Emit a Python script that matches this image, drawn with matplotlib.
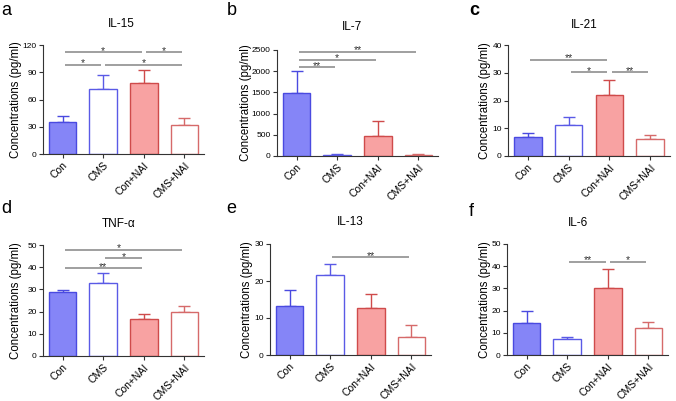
import matplotlib
matplotlib.use("Agg")
import matplotlib.pyplot as plt

plt.rcParams['font.family'] = ['Liberation Sans', 'DejaVu Sans']

groups = ["Con", "CMS", "Con+NAI", "CMS+NAI"]

titles = ["IL-15", "IL-7", "IL-21", "TNF-α", "IL-13", "IL-6"]
letters = ["a", "b", "c", "d", "e", "f"]

il15_mean = [35, 72, 78, 32]
il15_err = [7, 15, 14, 8]
il7_mean = [1480, 30, 480, 30]
il7_err = [520, 15, 350, 15]
il21_mean = [7.0, 11.2, 22.0, 6.0]
il21_err = [1.2, 2.8, 5.3, 1.6]
tnf_mean = [29.0, 33.0, 16.5, 20.0]
tnf_err = [0.6, 4.5, 2.5, 2.3]
il13_mean = [13.2, 21.5, 12.7, 5.0]
il13_err = [4.3, 3.2, 3.8, 3.2]
il6_mean = [14.5, 7.2, 30.0, 12.0]
il6_err = [5.5, 0.8, 8.6, 2.7]

means = [il15_mean, il7_mean, il21_mean, tnf_mean, il13_mean, il6_mean]
errs = [il15_err, il7_err, il21_err, tnf_err, il13_err, il6_err]

yticks = [
    [0, 30, 60, 90, 120],
    [0, 500, 1000, 1500, 2000, 2500],
    [0, 10, 20, 30, 40],
    [0, 10, 20, 30, 40, 50],
    [0, 10, 20, 30],
    [0, 10, 20, 30, 40, 50],
]

# significance: (i, j, y, label, label shift in bar units)
sig = [
    [(0, 2, 112, "*", 0), (2, 3, 112, "*", 0), (0, 1, 98, "*", 0), (1, 3, 98, "*", 0)],
    [(0, 3, 2460, "**", 0), (0, 2, 2270, "*", 0), (0, 1, 2090, "**", 0)],
    [(0, 2, 34.6, "**", 0), (1, 2, 30.2, "*", 0), (2, 3, 30.2, "**", 0)],
    [(0, 3, 47.7, "*", -0.12), (1, 2, 44.0, "*", 0), (0, 2, 39.5, "**", 0)],
    [(1, 3, 26.4, "**", 0)],
    [(1, 2, 42.0, "**", 0), (2, 3, 42.0, "*", 0)],
]

W, H = 676, 401
# pixel boxes: left, right, top, bottom
boxes = [
    (43, 204, 45, 154),
    (277, 438, 50, 156),
    (508, 670, 45, 156),
    (43, 204, 245, 356),
    (270, 431, 244, 355),
    (507, 668, 244, 355),
]
title_pos = [(121, 27), (352, 30), (584, 28), (119, 227), (350, 225), (578, 226)]
letter_pos = [(1, 15), (227, 15), (469, 15), (1, 213), (226, 213), (469, 216)]
letter_weight = ["normal", "normal", "bold", "normal", "normal", "normal"]
ylabel_x = [16, 246, 485, 16, 247, 485]

blue_fill = "#8585f7"
blue_edge = "#4a4ae0"
red_fill = "#f8a2a2"
red_edge = "#cf4b4b"
faces = [blue_fill, "white", red_fill, "white"]
edges = [blue_edge, "#5a5ae6", red_edge, "#d66a6a"]

fig = plt.figure(figsize=(W / 100, H / 100), dpi=100)

for k in range(6):
    l, r, t, b = boxes[k]
    ax = fig.add_axes([l / W, 1 - b / H, (r - l) / W, (b - t) / H])
    x = list(range(len(groups)))
    for i in x:
        ax.bar(i, means[k][i], width=0.68, color=faces[i], edgecolor=edges[i],
               linewidth=1.0, zorder=2)
        ax.errorbar(i, means[k][i], yerr=[[0], [errs[k][i]]], fmt='none',
                    ecolor=edges[i], elinewidth=1.0, capsize=4.5, capthick=1.0,
                    zorder=1)
    ymax = yticks[k][-1]
    ax.set_ylim(0, ymax)
    ax.set_xlim(-0.48, 3.48)
    ax.set_yticks(yticks[k])
    ax.set_yticklabels([str(v) for v in yticks[k]], fontsize=6)
    ax.set_xticks(x)
    ax.set_xticklabels(groups, rotation=45, ha='right', rotation_mode='anchor',
                       fontsize=7.5)
    for s in ["top", "right"]:
        ax.spines[s].set_visible(False)
    for s in ["left", "bottom"]:
        ax.spines[s].set_linewidth(0.8)
        ax.spines[s].set_color("#333333")
    ax.tick_params(axis='both', length=3, width=0.8, color="#333333", pad=1.5)
    for (i, j, yv, lab, dx) in sig[k]:
        ax.plot([i + 0.05, j - 0.05], [yv, yv], color="#858585", lw=1.1,
                clip_on=False, zorder=3, solid_capstyle='butt')
        ax.annotate(lab, xy=((i + j) / 2 + dx, yv), xytext=(0, -1.0),
                    textcoords='offset points', ha='center', va='baseline',
                    fontsize=7.5, color="#333333", annotation_clip=False)
    tx, ty = title_pos[k]
    fig.text(tx / W, 1 - ty / H, titles[k], ha='center', va='baseline', fontsize=8.5)
    lx, ly = letter_pos[k]
    fig.text(lx / W, 1 - ly / H, letters[k], ha='left', va='baseline', fontsize=13,
             fontweight=letter_weight[k])
    fig.text(ylabel_x[k] / W, 1 - ((t + b) / 2) / H, "Concentrations (pg/ml)",
             rotation=90, ha='center', va='center', fontsize=8.3)

fig.savefig("out.png", dpi=100)
